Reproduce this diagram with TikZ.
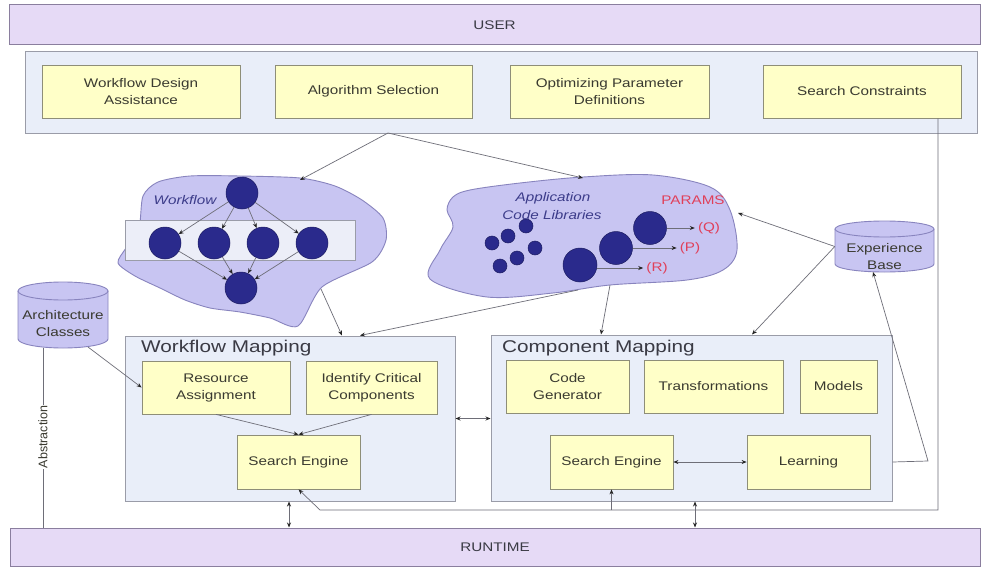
\documentclass[tikz,border=0pt]{standalone}
\usepackage{fontspec}
\setmainfont{Liberation Sans}[FakeStretch=1.22]
\newfontfamily\plainsans{Liberation Sans}
\usetikzlibrary{arrows.meta}
\definecolor{barfill}{HTML}{E6DAF6}
\definecolor{barline}{HTML}{8A7E9E}
\definecolor{panelfill}{HTML}{E9EEF9}
\definecolor{panelline}{HTML}{9A9CA8}
\definecolor{boxfill}{HTML}{FFFFC8}
\definecolor{boxline}{HTML}{8E8E78}
\definecolor{cloudfill}{HTML}{C8C5F2}
\definecolor{cloudline}{HTML}{8884BE}
\definecolor{navy}{HTML}{2A2A8C}
\definecolor{lnc}{HTML}{6E6E78}
\definecolor{txt}{HTML}{3A3A30}
\definecolor{titletxt}{HTML}{3A3A44}
\definecolor{param}{HTML}{E0405A}
\definecolor{cloudtxt}{HTML}{3C3C8A}
\definecolor{wrectfill}{HTML}{ECEEF8}
\newcommand{\boxfont}{\fontsize{12.5pt}{17pt}\selectfont}
\newcommand{\titlefont}{\fontsize{17pt}{20pt}\selectfont}
\begin{document}
\begin{tikzpicture}[x=1pt,y=-1pt,
  >={Stealth[length=5pt,width=4pt,color=black!85]},
  bar/.style={draw=barline, fill=barfill, line width=1pt, font=\boxfont, text=titletxt},
  panel/.style={draw=panelline, fill=panelfill, line width=1pt},
  ybox/.style={draw=boxline, fill=boxfill, line width=0.8pt, align=center, font=\boxfont, text=txt, inner sep=0pt},
  conn/.style={draw=lnc, line width=0.7pt},
  cloudshape/.style={draw=cloudline, fill=cloudfill, line width=0.9pt},
  cyl/.style={draw=cloudline, fill=cloudfill, line width=0.9pt},
  dot/.style={circle, fill=navy, draw=navy!70!black, line width=0.5pt, minimum size=#1, inner sep=0pt},
  cloudlabel/.style={font=\boxfont\itshape, text=cloudtxt, inner sep=0pt},
  plabel/.style={font=\boxfont, text=param, inner sep=0pt},
  title/.style={font=\titlefont, text=titletxt, inner sep=0pt, anchor=west}
]
\useasboundingbox (0,0) rectangle (981,567);
\fill[white] (0,0) rectangle (981,567);

% ---------- bars ----------
\node[bar, minimum width=971pt, minimum height=40pt] (user) at (494.5,25) {USER};
\node[bar, minimum width=970pt, minimum height=38pt] (runtime) at (495,547) {RUNTIME};

% ---------- top panel ----------
\node[panel, minimum width=952pt, minimum height=81pt] (toppanel) at (501,92.5) {};
\node[ybox, minimum width=198pt, minimum height=53pt] (wda) at (141,91.5) {Workflow Design\\Assistance};
\node[ybox, minimum width=197pt, minimum height=53pt] (algsel) at (373.5,91.5) {Algorithm Selection};
\node[ybox, minimum width=199pt, minimum height=53pt] (opd) at (609.5,91.5) {Optimizing Parameter\\Definitions};
\node[ybox, minimum width=198pt, minimum height=53pt] (sc) at (862,91.5) {Search Constraints};

% ---------- workflow cloud ----------
\draw[cloudshape] plot[smooth cycle, tension=0.45] coordinates {
  (143,196) (158,182) (190,176) (240,176) (300,178) (335,186) (362,200)
  (383,218) (386,240) (372,262) (322,287) (298,326) (270,318) (240,312)
  (210,308) (185,300) (160,288) (135,276) (118,263) (126,248) (139,228)};
\node[cloudlabel] (wflabel) at (185,200) {Workflow};
\node[dot=32pt] (wtop) at (242,193) {};
\node[draw=panelline, fill=wrectfill, line width=0.8pt, minimum width=230pt, minimum height=40pt, inner sep=0pt] (wrect) at (240,240) {};
\node[dot=32pt] (w1) at (165,243) {};
\node[dot=32pt] (w2) at (214,243) {};
\node[dot=32pt] (w3) at (263,243) {};
\node[dot=32pt] (w4) at (312,243) {};
\node[dot=32pt] (wbot) at (241,288) {};
\foreach \n in {w1,w2,w3,w4} {
  \draw[conn,->] (wtop) -- (\n);
  \draw[conn,->] (\n) -- (wbot);
}

% ---------- application cloud ----------
\draw[cloudshape] plot[smooth cycle, tension=0.55] coordinates {
  (453,197) (470,190) (520,183) (583,177) (653,175) (710,187) (730,210)
  (737,250) (723,270) (687,280) (610,285) (553,293) (487,297) (430,279)
  (440,250) (453,227) (447,210)};
\node[cloudlabel] (applabel) at (553,198) {Application};
\node[cloudlabel] (codelabel) at (552,215) {Code Libraries};
\node[plabel] (params) at (693,200) {PARAMS};
\node[dot=14pt] (s1) at (492,243) {};
\node[dot=14pt] (s2) at (508,236) {};
\node[dot=14pt] (s3) at (526,226) {};
\node[dot=14pt] (s4) at (535,248) {};
\node[dot=14pt] (s5) at (517,258) {};
\node[dot=14pt] (s6) at (500,266) {};
\node[dot=33pt] (cq) at (650,228) {};
\node[dot=33pt] (cp) at (616,248) {};
\node[dot=34pt] (cr) at (580,265) {};
\node[plabel] (lq) at (709,228) {(Q)};
\node[plabel] (lp) at (690,248) {(P)};
\node[plabel] (lr) at (657,268) {(R)};
\draw[conn,->] (cq.east) -- ([xshift=-3pt]lq.west);
\draw[conn,->] (cp.east) -- ([xshift=-3pt]lp.west);
\draw[conn,->] (cr.east |- lr) -- ([xshift=-3pt]lr.west);

% ---------- cylinders ----------
\node[minimum width=90pt, minimum height=66pt, inner sep=0pt] (arch) at (63,315) {};
\draw[cyl] (18,291) -- (18,339) arc[start angle=180, end angle=360, x radius=45pt, y radius=9pt] -- (108,291);
\draw[cyl] (63,291) ellipse[x radius=45pt, y radius=9pt];
\node[align=center, font=\boxfont, text=txt, inner sep=0pt] (archtxt) at (63,324) {Architecture\\Classes};

\node[minimum width=99pt, minimum height=51pt, inner sep=0pt] (exp) at (884.5,246.5) {};
\draw[cyl] (835,229) -- (835,264) arc[start angle=180, end angle=360, x radius=49.5pt, y radius=8pt] -- (934,229);
\draw[cyl] (884.5,229) ellipse[x radius=49.5pt, y radius=8pt];
\node[align=center, font=\boxfont, text=txt, inner sep=0pt] (exptxt) at (884.5,256.5) {Experience\\Base};

% ---------- workflow mapping ----------
\node[panel, minimum width=330pt, minimum height=165pt] (wm) at (290,418.5) {};
\node[title] (wmt) at (141,348) {Workflow Mapping};
\node[ybox, minimum width=148pt, minimum height=53pt] (ra) at (216,387.5) {Resource\\Assignment};
\node[ybox, minimum width=131pt, minimum height=53pt] (icc) at (371.5,387.5) {Identify Critical\\Components};
\node[ybox, minimum width=123pt, minimum height=54pt] (wse) at (298.5,462) {Search Engine};

% ---------- component mapping ----------
\node[panel, minimum width=401pt, minimum height=166pt] (cm) at (691.5,418) {};
\node[title] (cmt) at (502,348) {Component Mapping};
\node[ybox, minimum width=123pt, minimum height=53pt] (cg) at (567.5,386.5) {Code\\Generator};
\node[ybox, minimum width=139pt, minimum height=53pt] (tr) at (713.5,386.5) {Transformations};
\node[ybox, minimum width=77pt, minimum height=53pt] (mo) at (838.5,386.5) {Models};
\node[ybox, minimum width=123pt, minimum height=54pt] (cse) at (611.5,462) {Search Engine};
\node[ybox, minimum width=123pt, minimum height=54pt] (le) at (808.5,462) {Learning};

% ---------- helper coordinates ----------
\coordinate (tp) at (388,133);
\coordinate (wfin) at (300,180);
\coordinate (appin) at (583,178);
\coordinate (wfout) at (321,289);
\coordinate (appout1) at (578,290);
\coordinate (appout2) at (610,285);
\coordinate (appparam) at (738,213);
\coordinate (rline) at (938,510);
\coordinate (lturn) at (320,510);
\coordinate (expturn) at (928,461);
\coordinate (expin) at (873,272);
\coordinate (archout) at (88,347);
\coordinate (absx) at (43,437);
\coordinate (d1) at (289,0);
\coordinate (d2) at (695,0);

% ---------- connectors ----------
\draw[conn,->] (tp) -- (wfin);
\draw[conn,->] (tp) -- (appin);
\draw[conn,->] (wfout) -- (wm.north -| 342,0);
\draw[conn,->] (appout1) -- (wm.north -| 360,0);
\draw[conn,->] (appout2) -- (cm.north -| 601,0);
\draw[conn,->] (exp.west) -- (cm.north -| 752,0);
\draw[conn,->] (exp.west) -- (appparam);
\draw[conn,->] (cm.east |- le.east) -- (expturn) -- (expin);
\draw[conn,->] (sc.south -| rline) -- (rline) -- (lturn) -- (wse.south);
\draw[conn,->] (cse.south |- rline) -- (cse.south);
\draw[conn,<->] (wm.south -| d1) -- (runtime.north -| d1);
\draw[conn,<->] (cm.south -| d2) -- (runtime.north -| d2);
\draw[conn,<->] (wm.east) -- (cm.west |- wm.east);
\draw[conn,<->] (cse.east) -- (le.west);
\draw[conn,->] (ra.south) -- (wse.north);
\draw[conn,->] (icc.south) -- (wse.north);
\draw[conn,->] (archout) -- (ra.west);
\draw[conn] (arch.south -| absx) -- (runtime.north -| absx);
\node[rotate=90, fill=white, inner sep=1pt, font=\plainsans\fontsize{12.5pt}{14pt}\selectfont, text=txt] (abs) at (absx) {Abstraction};
\end{tikzpicture}
\end{document}
